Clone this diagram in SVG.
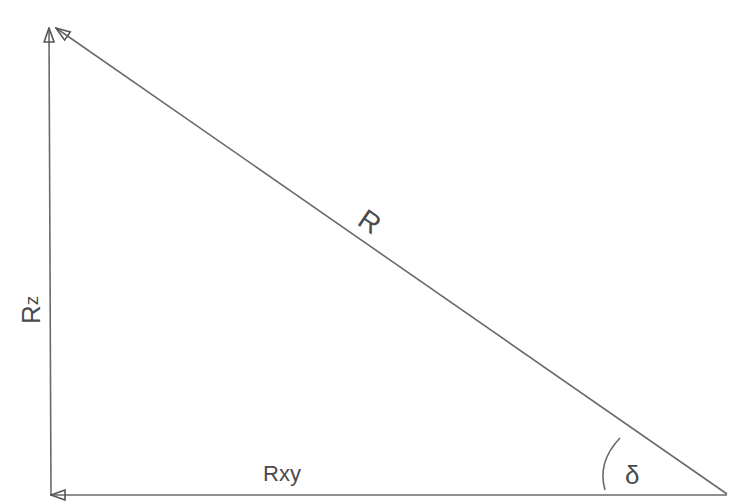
<svg xmlns="http://www.w3.org/2000/svg" width="730" height="503" viewBox="0 0 730 503">
<style>
.ln{stroke:#6a6a6a;stroke-width:1.6;fill:none}
.lbl{font-family:"Liberation Sans",Arial,sans-serif;fill:#4a4a4a}
</style>
<defs>
<marker id="ah" viewBox="0 0 16 12" refX="15" refY="6" markerWidth="16" markerHeight="12" markerUnits="userSpaceOnUse" orient="auto">
<path d="M1,1 L15,6 L1,11 Z" fill="none" stroke="#555" stroke-width="1.6"/>
</marker>
</defs>
<rect width="730" height="503" fill="#fff"/>
<g id="connectors">
<line id="Rz-vec" class="ln" x1="51" y1="496" x2="49" y2="28" marker-end="url(#ah)"/>
<line id="R-vec" class="ln" x1="727" y1="494" x2="56" y2="28" marker-end="url(#ah)"/>
<line id="Rxy-vec" class="ln" x1="727" y1="495" x2="51" y2="495" marker-end="url(#ah)" stroke-width="2"/>
<path id="angle-arc" class="ln" d="M620,438 Q597,462 605,490" stroke-width="1.3"/>
</g>
<g id="labels">
<text class="lbl" transform="translate(40,324) rotate(-90)" font-size="26">R<tspan font-size="19" dy="-2">z</tspan></text>
<text class="lbl" transform="translate(356,224) rotate(34)" font-size="28">R</text>
<text class="lbl" x="263" y="481" font-size="22">Rxy</text>
<text class="lbl" x="625" y="484" font-size="26">δ</text>
</g>
</svg>
